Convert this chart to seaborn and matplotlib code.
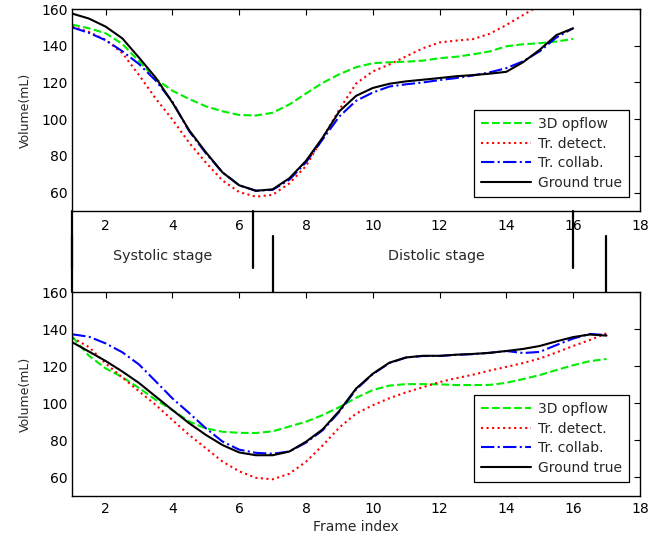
import matplotlib
matplotlib.use("Agg")
import matplotlib.pyplot as plt
import seaborn as sns

# ---------------- data ----------------
series_names = ["3D opflow", "Tr. detect.", "Tr. collab.", "Ground true"]

top_frames = [1.0, 1.5, 2.0, 2.5, 3.0, 3.5, 4.0, 4.5, 5.0, 5.5, 6.0, 6.5, 7.0, 7.5,
              8.0, 8.5, 9.0, 9.5, 10.0, 10.5, 11.0, 11.5, 12.0, 12.5, 13.0, 13.5,
              14.0, 14.5, 15.0, 15.5, 16.0]
top_opflow = [151.5, 149.5, 146.8, 141.0, 131.5, 122.0, 115.5, 111.0, 107.0, 104.3,
              102.3, 102.0, 103.5, 108.0, 114.0, 119.8, 124.5, 128.3, 130.5, 131.0,
              131.3, 131.9, 133.2, 134.0, 135.3, 136.9, 139.7, 140.8, 141.4, 142.3, 143.7]
top_detect = [150.5, 147.5, 143.2, 136.0, 124.0, 111.2, 99.8, 87.2, 76.4, 66.6,
              60.3, 57.8, 58.8, 65.0, 74.5, 89.8, 105.3, 119.4, 126.0, 129.8,
              134.2, 138.6, 141.8, 142.8, 143.6, 146.5, 151.3, 156.7, 162.0, 166.5, 170.0]
top_collab = [150.0, 147.0, 143.0, 137.0, 130.0, 121.0, 109.5, 93.5, 81.5, 71.0,
              64.0, 61.0, 61.5, 67.0, 76.5, 89.0, 101.5, 110.0, 114.5, 117.8,
              119.0, 120.0, 121.3, 122.4, 123.8, 125.5, 127.8, 131.5, 137.0, 144.5, 149.5]
top_truth = [157.5, 154.8, 150.4, 144.0, 133.5, 122.6, 109.0, 94.0, 82.0, 71.0,
             64.0, 61.0, 61.8, 67.8, 77.3, 90.0, 104.3, 112.7, 117.0, 119.3,
             120.6, 121.5, 122.4, 123.4, 124.0, 124.8, 125.8, 131.0, 137.8, 145.8, 149.5]

bottom_frames = [1.0, 1.5, 2.0, 2.5, 3.0, 3.5, 4.0, 4.5, 5.0, 5.5, 6.0, 6.5, 7.0, 7.5,
                 8.0, 8.5, 9.0, 9.5, 10.0, 10.5, 11.0, 11.5, 12.0, 12.5, 13.0, 13.5,
                 14.0, 14.5, 15.0, 15.5, 16.0, 16.5, 17.0]
bottom_opflow = [136.0, 125.7, 118.9, 114.2, 108.3, 101.9, 96.4, 90.2, 86.5, 84.7,
                 84.1, 84.0, 84.9, 87.5, 90.1, 93.7, 98.0, 103.0, 107.2, 109.6,
                 110.4, 110.4, 110.3, 109.9, 109.9, 110.0, 111.1, 113.1, 115.3, 118.0,
                 120.6, 122.8, 124.0]
bottom_detect = [135.5, 130.4, 121.6, 114.0, 106.5, 99.2, 91.0, 83.0, 75.8, 68.6,
                 63.3, 59.8, 59.0, 62.0, 68.5, 77.3, 87.0, 94.5, 99.0, 102.8,
                 106.0, 108.7, 111.5, 113.6, 115.5, 117.7, 119.7, 121.8, 124.2, 127.5,
                 131.0, 134.2, 137.8]
bottom_collab = [137.3, 136.0, 132.4, 127.6, 121.0, 111.9, 102.7, 94.8, 86.6, 79.4,
                 75.0, 73.3, 72.8, 74.0, 78.8, 85.5, 95.5, 107.5, 115.8, 121.8,
                 124.8, 125.6, 125.6, 126.2, 126.6, 127.3, 128.3, 127.2, 127.8, 131.5,
                 135.0, 137.5, 136.9]
bottom_truth = [133.0, 128.0, 122.9, 117.2, 111.0, 103.7, 96.4, 89.3, 83.0, 77.5,
                73.5, 72.0, 72.0, 74.0, 79.3, 86.0, 96.0, 108.0, 116.0, 122.0,
                124.8, 125.7, 125.7, 126.3, 126.7, 127.3, 128.3, 129.4, 131.0, 133.5,
                135.8, 137.2, 136.6]

x_ticks = [2, 4, 6, 8, 10, 12, 14, 16, 18]
y_ticks = [60, 80, 100, 120, 140, 160]

stage_names = ["Systolic stage", "Distolic stage"]
top_stage_bounds = [1, 6.4, 16]
bottom_stage_bounds = [1, 7, 17]

# ---------------- style ----------------
sns.set_style("white")
plt.rcParams["font.family"] = ["DejaVu Sans"]
plt.rcParams["font.size"] = 10

colors = ["#00ee00", "#ff0000", "#0000ff", "#000000"]
styles = ["--", ":", "-.", "-"]

fig = plt.figure(figsize=(6.6, 5.37), dpi=100)
left, width = 0.1095, 0.860
ax_top = fig.add_axes([left, 0.6071, width, 0.3761])
ax_bot = fig.add_axes([left, 0.0764, width, 0.3793])
ax_mid = fig.add_axes([left, 0.4557, width, 0.1514])


def draw_panel(ax, frames, series_list, xpad):
    for name, vals, c, ls in zip(series_names, series_list, colors, styles):
        sns.lineplot(x=frames, y=vals, ax=ax, color=c, linestyle=ls,
                     linewidth=1.5, label=name)
    ax.set_xlim(1, 18)
    ax.set_ylim(50, 160)
    ax.set_xticks(x_ticks)
    ax.set_yticks(y_ticks)
    ax.set_ylabel("Volume(mL)", fontsize=9, labelpad=7)
    ax.tick_params(direction="in", top=True, right=True, length=4, width=0.8,
                   labelsize=10, colors="black")
    ax.tick_params(axis="x", pad=xpad)
    ax.tick_params(axis="y", pad=3)
    for sp in ax.spines.values():
        sp.set_visible(True)
        sp.set_linewidth(1.0)
        sp.set_color("black")
    leg = ax.legend(loc="lower right", bbox_to_anchor=(0.98, 0.07),
                    borderaxespad=0, fancybox=False, framealpha=1,
                    edgecolor="black", fontsize=10, handlelength=3.6,
                    handletextpad=0.45, labelspacing=0.4, borderpad=0.5)
    leg.get_frame().set_linewidth(0.9)


draw_panel(ax_top, top_frames, [top_opflow, top_detect, top_collab, top_truth], 6)
ax_top.set_xlabel("")
draw_panel(ax_bot, bottom_frames,
           [bottom_opflow, bottom_detect, bottom_collab, bottom_truth], 4.5)
ax_bot.set_xlabel("Frame index", fontsize=10, labelpad=3)

# middle band with stage boundaries
ax_mid.set_xlim(1, 18)
ax_mid.set_ylim(0, 1)
ax_mid.axis("off")
for xb in top_stage_bounds:
    ax_mid.axvline(xb, ymin=0.295, ymax=1.0, color="black", linewidth=1.6,
                   clip_on=False)
for xb in bottom_stage_bounds:
    ax_mid.axvline(xb, ymin=0.0, ymax=0.69, color="black", linewidth=1.6,
                   clip_on=False)
ax_mid.text(3.7, 0.446, stage_names[0], ha="center", va="center", fontsize=10.3)
ax_mid.text(11.9, 0.446, stage_names[1], ha="center", va="center", fontsize=10.3)

fig.savefig("out.png", dpi=100)
